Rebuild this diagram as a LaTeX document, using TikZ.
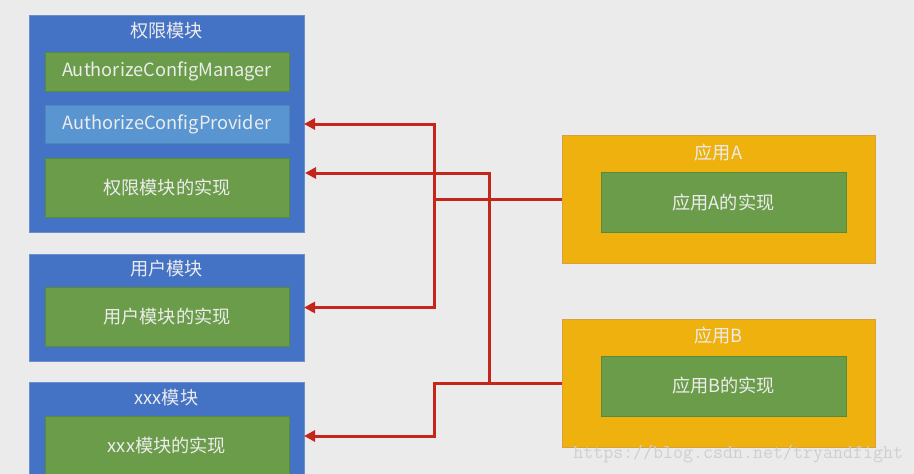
\documentclass[tikz,border=0pt]{standalone}
\usepackage{fontspec}
\setmainfont{Noto Sans CJK SC}
\usetikzlibrary{arrows.meta}
\definecolor{bg}{HTML}{EBEBEB}
\definecolor{modblue}{HTML}{4472C4}
\definecolor{modblueline}{HTML}{6A8FD0}
\definecolor{provblue}{HTML}{5895D1}
\definecolor{implgreen}{HTML}{6A9C4A}
\definecolor{implgreenline}{HTML}{5A8A3E}
\definecolor{apporange}{HTML}{EFB10E}
\definecolor{apporangeline}{HTML}{D9A040}
\definecolor{wirered}{HTML}{C4261C}
\definecolor{txt}{HTML}{ECECEC}
\definecolor{wm}{HTML}{CFCFCF}
\begin{document}
\begin{tikzpicture}[x=1pt,y=-1pt,
  every node/.style={inner sep=0pt,outer sep=0pt},
  modbox/.style={fill=modblue,draw=modblueline,line width=0.6pt,minimum width=275pt},
  appbox/.style={fill=apporange,draw=apporangeline,line width=0.6pt,minimum width=313pt,minimum height=128pt},
  implbox/.style={fill=implgreen,draw=implgreenline,line width=0.6pt,text=txt,font=\fontsize{18.2}{20}\selectfont},
  provbox/.style={fill=provblue,draw=provblue!90!black,line width=0.6pt,text=txt,font=\fontsize{18.2}{20}\selectfont},
  titletext/.style={text=txt,font=\fontsize{18.2}{20}\selectfont},
  wire/.style={draw=wirered,line width=3pt,line join=miter},
  arr/.style={wire,-{Triangle[length=11pt,width=11pt]}}
]
\useasboundingbox (0,0) rectangle (914,474);
\clip (0,0) rectangle (914,474);
\fill[bg] (0,0) rectangle (914,474);

% module 1
\node[modbox,minimum height=217pt] (mod1) at (166.5,123.5) {};
\node[titletext] (mod1t) at (166.5,31) {权限模块};
\node[implbox,minimum width=244pt,minimum height=39pt] (mgr) at (167,71.5) {AuthorizeConfigManager};
\node[provbox,minimum width=244pt,minimum height=38pt] (prov) at (167,124) {AuthorizeConfigProvider};
\node[implbox,minimum width=244pt,minimum height=59pt] (impl1) at (167,187.5) {权限模块的实现};

% module 2
\node[modbox,minimum height=107pt] (mod2) at (166.5,307.5) {};
\node[titletext] (mod2t) at (166.5,269) {用户模块};
\node[implbox,minimum width=244pt,minimum height=59pt] (impl2) at (167,316.5) {用户模块的实现};

% module 3
\node[modbox,minimum height=108pt] (mod3) at (166.5,436) {};
\node[titletext] (mod3t) at (166.5,398) {xxx模块};
\node[implbox,minimum width=244pt,minimum height=60pt] (impl3) at (167,446) {xxx模块的实现};

% app A
\node[appbox] (appA) at (718.5,199) {};
\node[titletext] (appAt) at (718.5,152.5) {应用A};
\node[implbox,minimum width=245pt,minimum height=60pt] (implA) at (723.5,202.5) {应用A的实现};

% app B
\node[appbox] (appB) at (718.5,383) {};
\node[titletext] (appBt) at (718.5,335.5) {应用B};
\node[implbox,minimum width=245pt,minimum height=60pt] (implB) at (723.5,386) {应用B的实现};

% connectors
\coordinate (jA) at (434,199);
\coordinate (jB) at (434,383);
\coordinate (kB) at (489,383);
\coordinate (t2) at (305,173);

\draw[arr] (appA.west) -- (jA) |- (mod1.east |- prov);
\draw[arr] (jA) |- (mod2.east);
\draw[arr] (appB.west) -- (jB) |- (mod3.east);
\draw[arr] (kB) |- (t2);

% watermark
\node[text=wm,font=\ttfamily\fontsize{19.4}{20}\selectfont,anchor=east] (wmark) at (903,454) {https://blog.csdn.net/tryandfight};
\end{tikzpicture}
\end{document}
